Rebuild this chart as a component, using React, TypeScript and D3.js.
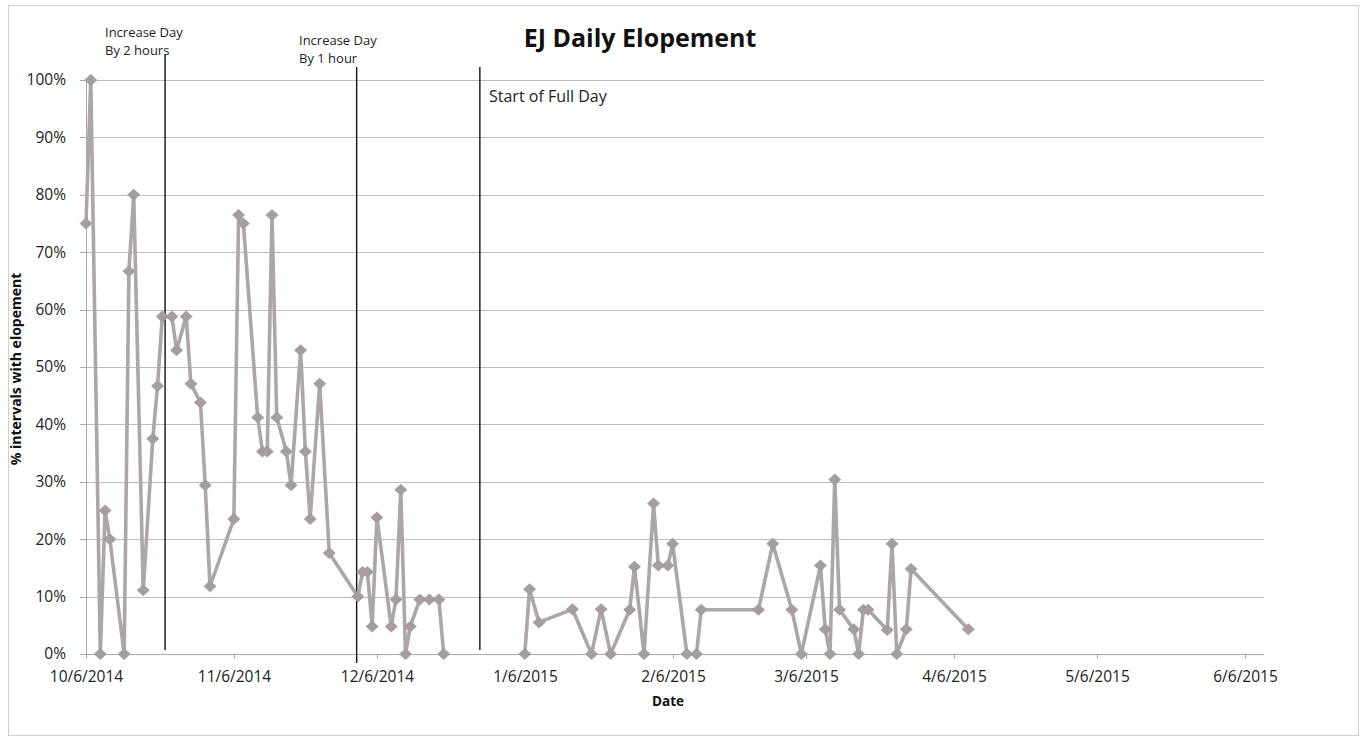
import React from "react";
import * as d3 from "d3";

const dates = [
  "2014-10-06","2014-10-07","2014-10-09","2014-10-10","2014-10-11","2014-10-14","2014-10-15","2014-10-16","2014-10-18","2014-10-20",
  "2014-10-21","2014-10-22","2014-10-24","2014-10-25","2014-10-27","2014-10-28","2014-10-30","2014-10-31","2014-11-01","2014-11-06",
  "2014-11-07","2014-11-08","2014-11-11","2014-11-12","2014-11-13","2014-11-14","2014-11-15","2014-11-17","2014-11-18","2014-11-20",
  "2014-11-21","2014-11-22","2014-11-24","2014-11-26","2014-12-02","2014-12-03","2014-12-04","2014-12-05","2014-12-06","2014-12-09",
  "2014-12-10","2014-12-11","2014-12-12","2014-12-13","2014-12-15","2014-12-17","2014-12-19","2014-12-20","2014-12-27","2015-01-06",
  "2015-01-07","2015-01-09","2015-01-16","2015-01-20","2015-01-22","2015-01-24","2015-01-28","2015-01-29","2015-01-31","2015-02-02",
  "2015-02-03","2015-02-05","2015-02-06","2015-02-09","2015-02-11","2015-02-12","2015-02-24","2015-02-27","2015-03-03","2015-03-05",
  "2015-03-09","2015-03-10","2015-03-11","2015-03-12","2015-03-13","2015-03-16","2015-03-17","2015-03-18","2015-03-19","2015-03-23",
  "2015-03-24","2015-03-25","2015-03-27","2015-03-28","2015-04-09",
];

const values: (number | null)[] = [
  75, 100, 0, 25, 20, 0, 66.7, 80, 11.1, 37.5,
  46.7, 58.8, 58.8, 52.9, 58.8, 47.1, 43.8, 29.4, 11.8, 23.5,
  76.5, 75, 41.2, 35.3, 35.3, 76.5, 41.2, 35.3, 29.4, 52.9,
  35.3, 23.5, 47.1, 17.6, 10, 14.3, 14.3, 4.8, 23.8, 4.8,
  9.5, 28.6, 0, 4.8, 9.5, 9.5, 9.5, 0, null, 0,
  11.3, 5.5, 7.8, 0, 7.8, 0, 7.7, 15.2, 0, 26.2,
  15.4, 15.4, 19.2, 0, 0, 7.7, 7.7, 19.2, 7.7, 0,
  15.4, 4.3, 0, 30.4, 7.7, 4.3, 0, 7.7, 7.7, 4.2,
  19.2, 0, 4.3, 14.8, 4.3,
];

const yTicks = [0, 10, 20, 30, 40, 50, 60, 70, 80, 90, 100];
const xTickDates = [
  "2014-10-06","2014-11-06","2014-12-06","2015-01-06","2015-02-06",
  "2015-03-06","2015-04-06","2015-05-06","2015-06-06",
];
const xDomain = ["2014-10-06", "2015-06-10"];

const phaseDates = ["2014-10-22 14:00", "2014-12-01 18:00", "2014-12-27 14:00"];
const phaseLabels = [["Increase Day", "By 2 hours"], ["Increase Day", "By 1 hour"], ["Start of Full Day"]];

const title = "EJ Daily Elopement";
const xTitle = "Date";
const yTitle = "% intervals with elopement";

const parseDay = d3.timeParse("%Y-%m-%d");
const parseDT = d3.timeParse("%Y-%m-%d %H:%M");
const fmt = d3.timeFormat("%-m/%-d/%Y");

const FONT = "'Open Sans', 'Liberation Sans', sans-serif";
const LINE = "#ada5a8";
const MARK = "#a59da0";

export default function App() {
  const left = 86, right = 1264, top = 80, bottom = 654;
  const x = d3.scaleTime()
    .domain(xDomain.map((d) => parseDay(d) as Date))
    .range([left, right]);
  const y = d3.scaleLinear().domain([0, 100]).range([bottom, top]);

  const pts = dates.map((d, i) => ({ date: parseDay(d) as Date, v: values[i] }));
  const line = d3.line<{ date: Date; v: number | null }>()
    .defined((d) => d.v !== null)
    .x((d) => x(d.date))
    .y((d) => y(d.v as number));

  const diamond = "M0,-6L6.5,0L0,6L-6.5,0Z";
  const phaseX = phaseDates.map((d) => x(parseDT(d) as Date));
  const labelPos = [
    { dx: 105, y0: 37, fs: 13 },
    { dx: 299, y0: 45, fs: 13 },
    { dx: 489, y0: 102, fs: 16 },
  ];
  const lineTops = [55, 67, 67];
  const lineBottoms = [650, 663, 650];

  return (
    <div style={{ position: "absolute", left: 0, top: 0 }}>
      <svg width={1363} height={741} style={{ display: "block", background: "#fff" }}>
        <rect x={8.5} y={5.5} width={1350} height={730} fill="#fff" stroke="#cfcfcf" strokeWidth={1} />
        {yTicks.map((t) => (
          <line key={"g" + t} x1={left} x2={right} y1={Math.round(y(t)) + 0.5} y2={Math.round(y(t)) + 0.5}
            stroke={t === 0 ? "#a9a9a9" : "#bdbdbd"} strokeWidth={1} />
        ))}
        <line x1={left + 0.5} x2={left + 0.5} y1={top} y2={bottom} stroke="#a9a9a9" />
        {yTicks.map((t) => (
          <g key={"yt" + t}>
            <line x1={left - 6} x2={left} y1={Math.round(y(t)) + 0.5} y2={Math.round(y(t)) + 0.5} stroke="#a9a9a9" />
            <text x={66} y={y(t)} dy="0.35em" textAnchor="end" fontFamily={FONT} fontSize={15.5} fill="#222">
              {t + "%"}
            </text>
          </g>
        ))}
        {xTickDates.map((d) => {
          const xx = Math.round(x(parseDay(d) as Date)) + 0.5;
          return (
            <g key={"xt" + d}>
              <line x1={xx} x2={xx} y1={bottom} y2={bottom + 5} stroke="#a9a9a9" />
              <text x={xx} y={682} textAnchor="middle" fontFamily={FONT} fontSize={15.5} fill="#222">
                {fmt(parseDay(d) as Date)}
              </text>
            </g>
          );
        })}
        {phaseX.map((px, i) => (
          <line key={"p" + i} x1={px} x2={px} y1={lineTops[i]} y2={lineBottoms[i]} stroke="#111" strokeWidth={1.4} />
        ))}
        {phaseLabels.map((lines, i) => (
          <text key={"pl" + i} x={labelPos[i].dx} y={labelPos[i].y0} fontFamily={FONT} fontSize={labelPos[i].fs} fill="#222">
            {lines.map((l, j) => (
              <tspan key={j} x={labelPos[i].dx} dy={j === 0 ? 0 : 18}>{l}</tspan>
            ))}
          </text>
        ))}
        <path d={line(pts) || ""} fill="none" stroke={LINE} strokeWidth={3.6} strokeLinejoin="round" />
        {pts.filter((p) => p.v !== null).map((p, i) => (
          <path key={"m" + i} d={diamond} transform={`translate(${x(p.date)},${y(p.v as number)})`} fill={MARK} />
        ))}
        <text x={640} y={47} textAnchor="middle" fontFamily={FONT} fontWeight="bold" fontSize={25} fill="#111">
          {title}
        </text>
        <text x={668} y={706} textAnchor="middle" fontFamily={FONT} fontWeight="bold" fontSize={13.5} fill="#111">
          {xTitle}
        </text>
        <text transform={`translate(21,369) rotate(-90)`} textAnchor="middle" fontFamily={FONT} fontWeight="bold" fontSize={14} fill="#111">
          {yTitle}
        </text>
      </svg>
    </div>
  );
}
